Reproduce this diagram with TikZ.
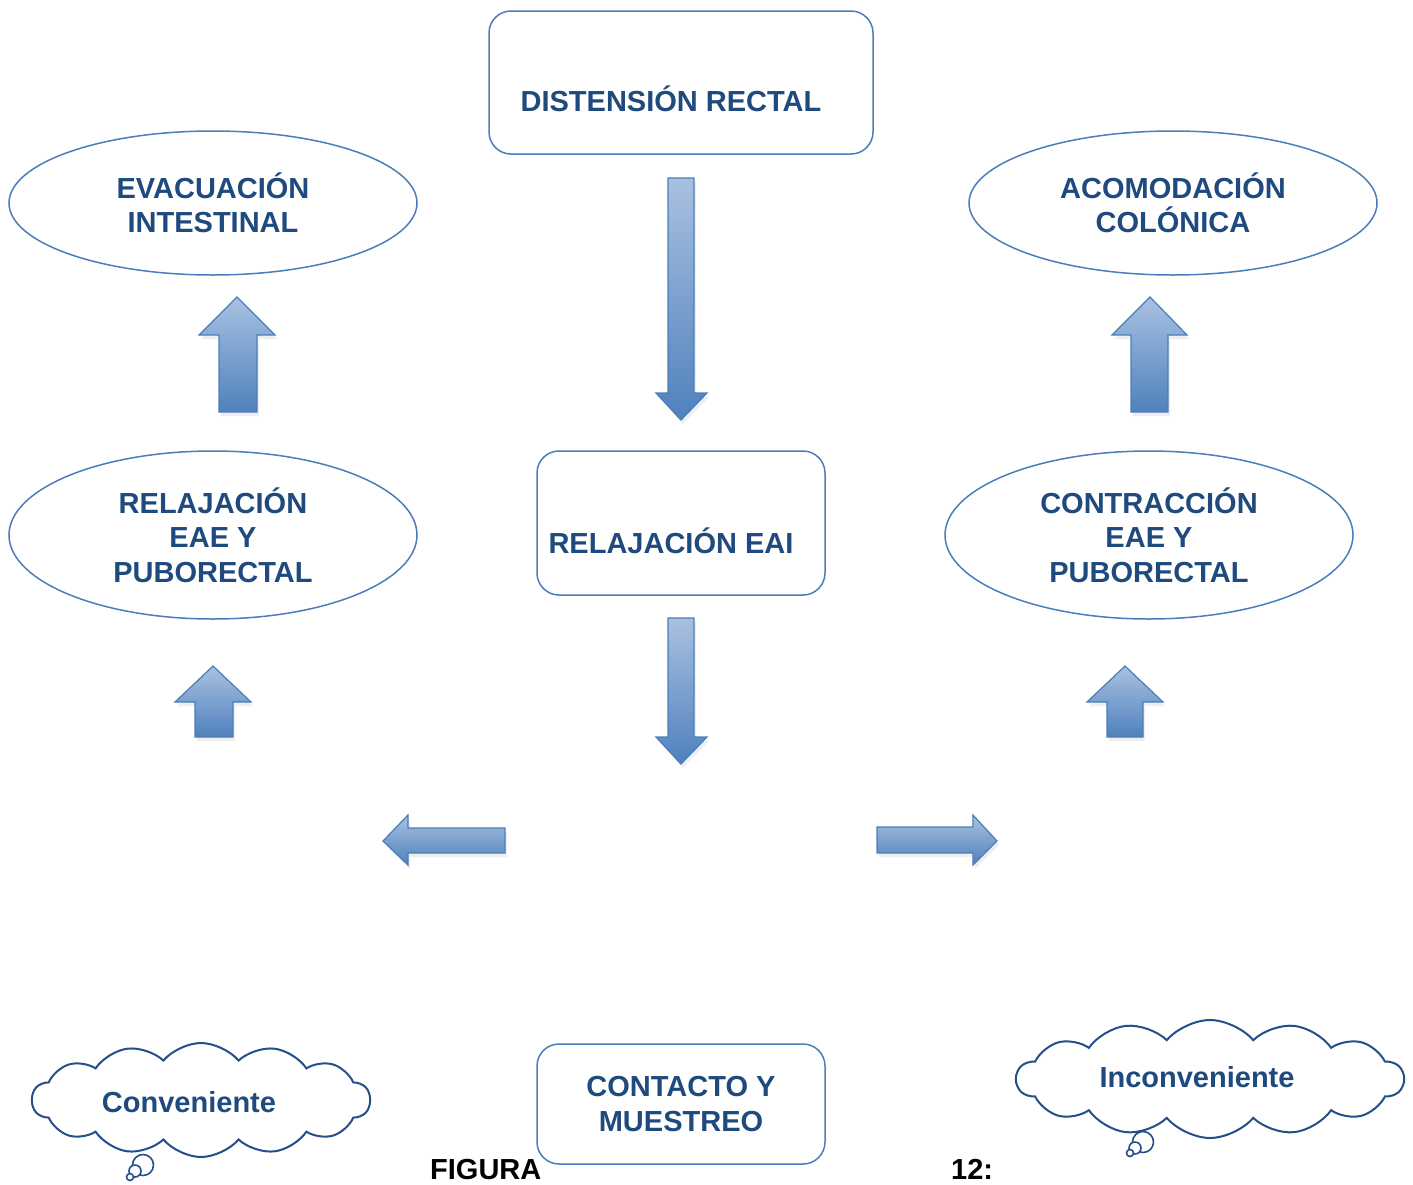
\documentclass[tikz,border=0pt]{standalone}
\usepackage{fontspec}
\setmainfont{Liberation Sans}
\usetikzlibrary{shapes.geometric,shapes.symbols,calc,shadows}
\definecolor{txtblue}{HTML}{1F4A7E}
\definecolor{linblue}{HTML}{4A7EBB}
\definecolor{arrlight}{HTML}{A9C1E0}
\definecolor{arrdark}{HTML}{4F81BD}
\definecolor{cloudline}{HTML}{254F8A}
\begin{document}
\begin{tikzpicture}[x=1pt,y=-1pt,
  lbl/.style={font=\bfseries\fontsize{29}{34.5}\selectfont, text=txtblue, align=center, inner sep=0pt},
  roundbox/.style={draw=linblue, line width=1.5pt, rounded corners=22pt, fill=white, inner sep=0pt},
  oval/.style={ellipse, draw=linblue, line width=1.5pt, fill=white, minimum width=408pt, lbl},
  blockarrow/.style={draw=linblue, line width=1.2pt, top color=arrlight, bottom color=arrdark, line join=miter,
     drop shadow={opacity=0.12, shadow xshift=2pt, shadow yshift=-4pt}},
  thought/.style={cloud, cloud puffs=14, cloud puff arc=100, cloud ignores aspect, draw=cloudline, line width=2pt, fill=white, inner sep=0pt},
  bubble/.style={circle, draw=cloudline, line width=1.6pt, fill=white, inner sep=0pt}
]
\useasboundingbox (0,0) rectangle (1413,1184);
\fill[white] (0,0) rectangle (1413,1184);

% boxes
\node[roundbox, minimum width=384pt, minimum height=143pt] (dist) at (681,82.5) {};
\node[lbl] (distt) at ($(dist.center)+(-10,16)$) {DISTENSIÓN RECTAL};

\node[roundbox, minimum width=288pt, minimum height=144pt] (eai) at (681,523) {};
\node[lbl] (eait) at ($(eai.center)+(-10,17.5)$) {RELAJACIÓN EAI};

\node[roundbox, lbl, minimum width=288pt, minimum height=120pt] (contacto) at (681,1104) {CONTACTO Y\\MUESTREO};

% ellipses
\node[oval, minimum height=144pt] (evac) at (213,203) {EVACUACIÓN\\INTESTINAL};
\node[oval, minimum height=144pt] (acom) at (1173,203) {ACOMODACIÓN\\COLÓNICA};
\node[oval, minimum height=168pt] (rele) at (213,535) {RELAJACIÓN\\EAE Y\\PUBORECTAL};
\node[oval, minimum height=168pt] (cont) at (1149,535) {CONTRACCIÓN\\EAE Y\\PUBORECTAL};

% block arrows
\path[blockarrow] (668,178) -- (694,178) -- (694,393) -- (707,393) -- (681,420) -- (656,393) -- (668,393) -- cycle;
\path[blockarrow] (668,618) -- (694,618) -- (694,737) -- (707,737) -- (681,764) -- (656,737) -- (668,737) -- cycle;
\path[blockarrow] (219,412) -- (219,335) -- (199,335) -- (237,297) -- (275,335) -- (257,335) -- (257,412) -- cycle;
\path[blockarrow] (1131,412) -- (1131,335) -- (1112,335) -- (1150,297) -- (1187,335) -- (1168,335) -- (1168,412) -- cycle;
\path[blockarrow] (195,737) -- (195,702) -- (175,702) -- (213,666) -- (251,702) -- (233,702) -- (233,737) -- cycle;
\path[blockarrow] (1107,737) -- (1107,702) -- (1087,702) -- (1125,666) -- (1163,702) -- (1143,702) -- (1143,737) -- cycle;
\path[blockarrow] (505,828) -- (408,828) -- (408,815) -- (383,841) -- (408,865) -- (408,853) -- (505,853) -- cycle;
\path[blockarrow] (877,827) -- (973,827) -- (973,815) -- (997,841) -- (973,865) -- (973,853) -- (877,853) -- cycle;

% clouds
\node[thought, minimum width=338pt, minimum height=114pt] (lcloud) at (201,1100) {};
\node[lbl] (lcloudt) at ($(lcloud.center)+(-12,2)$) {Conveniente};
\node[bubble, minimum size=21pt] (lb1) at (143,1165) {};
\node[bubble, minimum size=12pt] (lb2) at (135,1171) {};
\node[bubble, minimum size=7pt] (lb3) at (130,1177) {};

\node[thought, minimum width=387pt, minimum height=118pt] (rcloud) at (1210,1079) {};
\node[lbl] (rcloudt) at ($(rcloud.center)+(-13,-2)$) {Inconveniente};
\node[bubble, minimum size=21pt] (rb1) at (1143,1142) {};
\node[bubble, minimum size=12pt] (rb2) at (1135,1148) {};
\node[bubble, minimum size=7pt] (rb3) at (1130,1153) {};

% caption
\node[lbl, text=black, anchor=base west] (fig) at (430,1179) {FIGURA};
\node[lbl, text=black, anchor=base west] (num) at (951,1179) {12:};
\end{tikzpicture}
\end{document}
